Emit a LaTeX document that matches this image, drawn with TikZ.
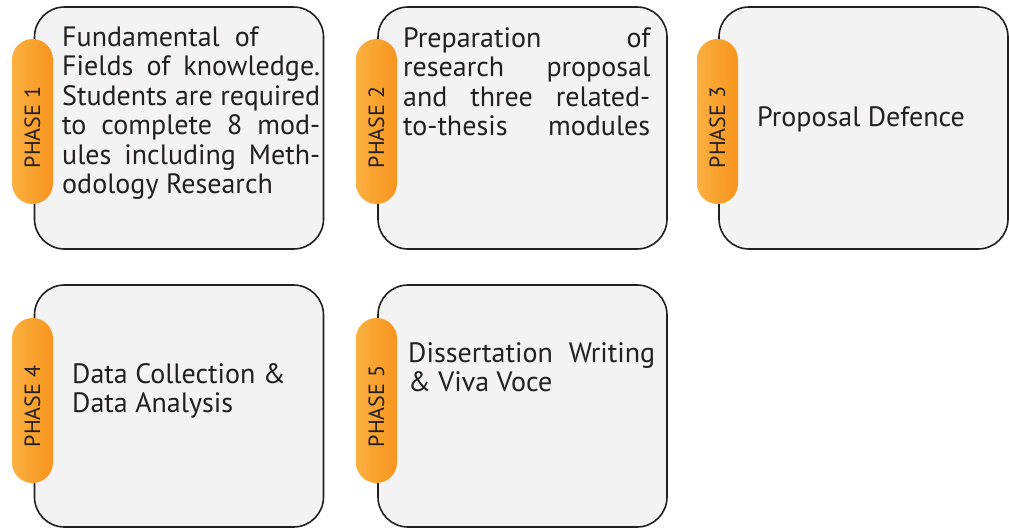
\documentclass[tikz,border=0pt]{standalone}
\usepackage{fontspec}
\setmainfont{PT Sans}
\definecolor{boxfill}{HTML}{F3F3F3}
\definecolor{boxline}{HTML}{231F20}
\definecolor{pillL}{HTML}{FBB040}
\definecolor{pillR}{HTML}{F7941D}
\definecolor{ink}{HTML}{231F20}
\tikzset{
  phasebox/.style={draw=boxline, fill=boxfill, line width=1.6pt, rounded corners=30pt,
    minimum width=289pt, minimum height=242pt, inner sep=0pt},
  pill/.style={left color=pillL, right color=pillR, rounded corners=20.5pt,
    minimum width=41pt, minimum height=165pt, inner sep=0pt, draw=none},
  pilltext/.style={rotate=90, inner sep=0pt, font=\fontsize{22}{26}\selectfont, text=ink},
  body/.style={anchor=base west, inner sep=0pt, font=\fontsize{28}{29.5}\selectfont, text=ink}
}
\begin{document}
\begin{tikzpicture}[x=1pt,y=-1pt]
\useasboundingbox (0,0) rectangle (1009,528);
% boxes
\node[phasebox] (box1) at (179,128) {};
\node[phasebox] (box2) at (522.5,128) {};
\node[phasebox] (box3) at (863.5,128) {};
\node[phasebox] (box4) at (179,406) {};
\node[phasebox] (box5) at (522.5,406) {};
% pills
\node[pill] (pill1) at (32.5,121.5) {};
\node[pill] (pill2) at (376.5,121.5) {};
\node[pill] (pill3) at (717.5,121.5) {};
\node[pill] (pill4) at (32.5,400.5) {};
\node[pill] (pill5) at (376.5,400.5) {};
\node[pilltext] (pt1) at ([yshift=-6pt]pill1.center) {PHASE 1};
\node[pilltext] (pt2) at ([yshift=-6pt]pill2.center) {PHASE 2};
\node[pilltext] (pt3) at ([yshift=-6pt]pill3.center) {PHASE 3};
\node[pilltext] (pt4) at ([yshift=-6pt]pill4.center) {PHASE 4};
\node[pilltext] (pt5) at ([yshift=-6pt]pill5.center) {PHASE 5};
% texts
\node[body] (txt1) at (62,46) {\parbox[t]{258pt}{\baselineskip=29.5pt
Fundamental~ of\\
\makebox[258pt][s]{Fields of knowledge.}\\
\makebox[258pt][s]{Students are required}\\
\makebox[258pt][s]{to complete 8 mod-}\\
\makebox[258pt][s]{ules including Meth-}\\
odology Research}};
\node[body] (txt2) at (403,47) {\parbox[t]{247pt}{\baselineskip=29.5pt
\makebox[247pt][s]{Preparation of}\\
\makebox[247pt][s]{research proposal}\\
\makebox[247pt][s]{and three related-}\\
\makebox[247pt][s]{to-thesis modules}}};
\node[body] (txt3) at (757,126) {Proposal Defence};
\node[body] (txt4) at (72,383) {\parbox[t]{240pt}{\baselineskip=29.5pt
Data Collection \&\\
Data Analysis}};
\node[body] (txt5) at (408,362) {\parbox[t]{247pt}{\baselineskip=29.5pt
\makebox[247pt][s]{Dissertation Writing}\\
\& Viva Voce}};
\end{tikzpicture}
\end{document}
